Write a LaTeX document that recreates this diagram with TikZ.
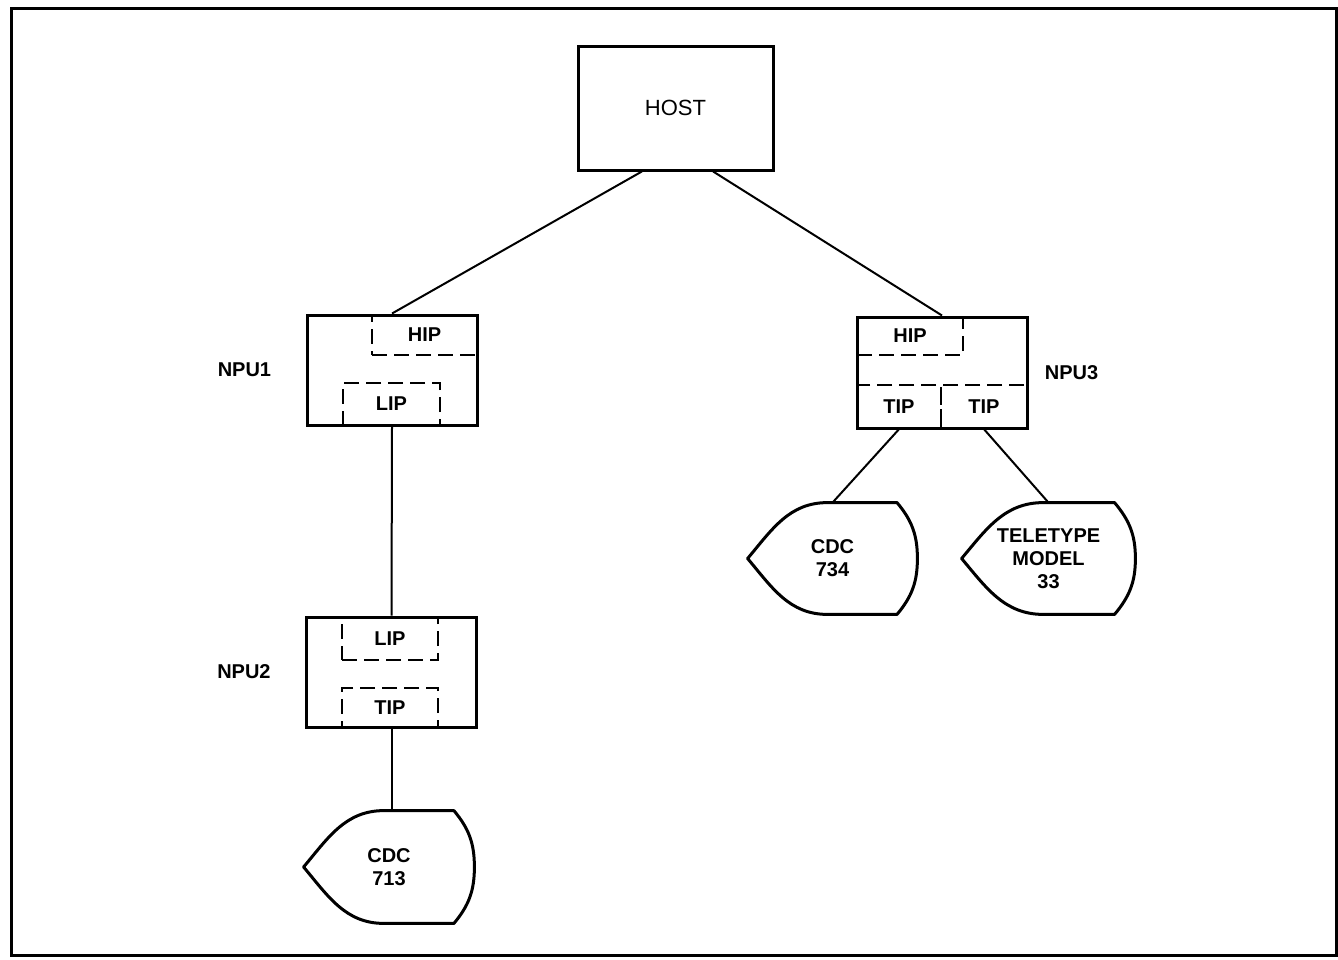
\documentclass[tikz,border=0pt]{standalone}
\usepackage{fontspec}
\setmainfont{Liberation Sans}
\usetikzlibrary{positioning,calc}

% outline of a display terminal round a named node
\newcommand{\termoutline}[1]{%
  \draw[line width=1.5pt, line join=round]
    (#1.west) to[out=50,in=180] ($(#1.north west)!0.47!(#1.north east)$)
    -- ($(#1.north west)!0.88!(#1.north east)$) to[out=-50,in=90] (#1.east)
    to[out=-90,in=50] ($(#1.south west)!0.88!(#1.south east)$)
    -- ($(#1.south west)!0.47!(#1.south east)$) to[out=180,in=-50] cycle;}

\begin{document}
\begin{tikzpicture}[
    x=0.5pt, y=-0.5pt,
    font=\fontsize{10}{11.5}\selectfont\bfseries,
    box/.style={
        rectangle,
        draw,
        line width=1.5pt,
        minimum width=85pt,
        minimum height=55pt,
        inner sep=0pt
    },
    part/.style={rectangle, draw, dash pattern=on 7.5pt off 3.5pt, line width=1.2pt, inner sep=0pt},
    term/.style={rectangle, minimum width=85pt, minimum height=56pt, align=center, inner sep=0pt},
    link/.style={line width=1pt},
    lbl/.style={inner sep=0pt}
]
\useasboundingbox (0,0) rectangle (1338,959);
\draw[line width=1.5pt] (11,8) rectangle (1336,955);

% host and front ends
\node[box, minimum width=97.5pt, minimum height=62pt, font=\fontsize{11}{13}\selectfont] (host) at (675.5,108) {HOST};
\node[box] (npu1) at (392,370) {};
\node[box] (npu2) at (391.5,672) {};
\node[box, minimum height=55.5pt] (npu3) at (942,372.5) {};

\node[lbl, left=17pt of npu1] (npu1lbl) {NPU1};
\node[lbl, left=17pt of npu2] (npu2lbl) {NPU2};
\node[lbl, right=8pt of npu3] (npu3lbl) {NPU3};

% interface programs
\node[part, minimum width=52.5pt, minimum height=20pt] (hip1) at (424.5,335) {HIP};
\node[part, minimum width=48.5pt, minimum height=21pt] (lip1) at (391.5,404) {LIP};
\node[part, minimum width=48pt, minimum height=21.5pt] (lip2) at (390,638.5) {LIP};
\node[part, minimum width=48pt, minimum height=19.5pt] (tip2) at (390,707.5) {TIP};
\node[part, minimum width=53pt, minimum height=19pt] (hip3) at (910,336) {HIP};
\node[part, minimum width=42pt, minimum height=21.5pt] (tip3a) at (899,406.5) {TIP};
\node[part, minimum width=43pt, minimum height=21.5pt] (tip3b) at (984,406.5) {TIP};

% terminals
\node[term] (cdc713) at (389,867) {CDC\\713};
\node[term, minimum width=84.5pt, minimum height=55.5pt] (cdc734) at (832.5,558.5) {CDC\\734};
\node[term, minimum width=86.5pt, minimum height=55.5pt] (tty33) at (1048.5,558.5) {TELETYPE\\MODEL\\33};
\termoutline{cdc713}
\termoutline{cdc734}
\termoutline{tty33}

\draw[link] ($(host.south west)!0.33!(host.south east)$) -- (npu1.north);
\draw[link] ($(host.south west)!0.69!(host.south east)$) -- (npu3.north);
\draw[link] (npu1.south) -- (npu2.north);
\draw[link] (npu2.south) -- (npu2.south |- cdc713.north);
\draw[link] (tip3a.south) -- (cdc734.north);
\draw[link] (tip3b.south) -- (tty33.north);

\end{tikzpicture}
\end{document}
